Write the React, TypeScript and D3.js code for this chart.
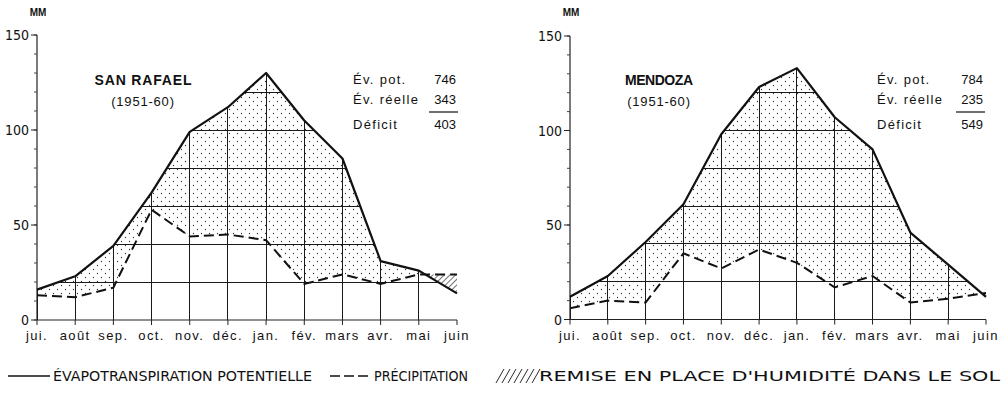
import React from "react";
import * as d3 from "d3";

const months = ["jui.", "août", "sep.", "oct.", "nov.", "déc.", "jan.", "fév.", "mars", "avr.", "mai", "juin"];
const yTicks = [0, 50, 100, 150];
const minorTicks = d3.range(0, 151, 10);
const gridLevels = [20, 40, 60, 80, 100, 120];

// values (mm)
const sanRafaelEtp = [16, 23, 39, 67, 99, 112, 130, 105, 85, 31, 26, 14];
const sanRafaelPrecip = [13, 12, 17, 58, 44, 45, 42, 19, 24, 19, 24, 24];
const mendozaEtp = [12, 23, 41, 61, 98, 123, 133, 107, 90, 46, 29, 12];
const mendozaPrecip = [6, 10, 9, 35, 27, 37, 30, 17, 23, 9, 11, 14];

const sanRafaelStats = [["Év. pot.", "746"], ["Év. réelle", "343"], ["Déficit", "403"]];
const mendozaStats = [["Év. pot.", "784"], ["Év. réelle", "235"], ["Déficit", "549"]];

const legendItems = [
  "ÉVAPOTRANSPIRATION POTENTIELLE",
  "PRÉCIPITATION",
  "REMISE EN PLACE D'HUMIDITÉ DANS LE SOL",
];

const FONT = "'Liberation Sans', Arial, sans-serif";
const COND = "'DejaVu Sans Condensed', 'Liberation Sans Narrow', 'Liberation Sans', sans-serif";

type ChartProps = {
  id: string;
  station: string;
  period: string;
  etp: number[];
  precip: number[];
  stats: string[][];
  xr: [number, number];
  yr: [number, number];
  titleX: number;
  statsX: number;
  statsR: number;
  titleLen: number;
};

function Chart(p: ChartProps) {
  const x = d3.scalePoint<string>().domain(months).range(p.xr);
  const y = d3.scaleLinear().domain([0, 150]).range(p.yr);
  const xi = (i: number) => x(months[i]) as number;

  const etpLine = d3.line<number>().x((_, i) => xi(i)).y(d => y(d))(p.etp) as string;
  const precipLine = d3.line<number>().x((_, i) => xi(i)).y(d => y(d))(p.precip) as string;
  const underEtp = d3.area<number>().x((_, i) => xi(i)).y0(y(0)).y1(d => y(d))(p.etp) as string;
  const aboveEtp = d3.area<number>().x((_, i) => xi(i)).y0(y(150)).y1(d => y(d))(p.etp) as string;
  const between = d3
    .area<number>()
    .x((_, i) => xi(i))
    .y0((_, i) => y(p.precip[i]))
    .y1(d => y(d))(p.etp) as string;

  const x0 = p.xr[0];
  const x1 = p.xr[1];

  return (
    <g>
      <defs>
        <clipPath id={`under-${p.id}`}>
          <path d={underEtp} />
        </clipPath>
        <clipPath id={`above-${p.id}`}>
          <path d={aboveEtp} />
        </clipPath>
      </defs>

      {/* deficit (dotted) */}
      <path d={between} fill="url(#dots)" clipPath={`url(#under-${p.id})`} />
      {/* recharge (hatched) */}
      <path d={between} fill="url(#hatch)" clipPath={`url(#above-${p.id})`} />

      {/* grid under ETP */}
      <g clipPath={`url(#under-${p.id})`} stroke="#1a1a1a" strokeWidth={1} shapeRendering="crispEdges">
        {gridLevels.map(v => (
          <line key={v} x1={x0} x2={x1} y1={y(v)} y2={y(v)} />
        ))}
        {months.map((m, i) => (
          <line key={m} x1={xi(i)} x2={xi(i)} y1={y(0)} y2={y(150)} />
        ))}
      </g>

      {/* x axis */}
      <line x1={x0} x2={x1} y1={y(0)} y2={y(0)} stroke="#222" strokeWidth={1.2} />
      {months.map((m, i) => (
        <g key={m}>
          <line x1={xi(i)} x2={xi(i)} y1={y(0)} y2={y(0) + 5} stroke="#222" />
          <text x={xi(i)} y={y(0) + 20} textAnchor="middle" fontSize={13} letterSpacing={1.4} fontFamily={FONT} fill="#111">
            {m}
          </text>
        </g>
      ))}

      {/* y axis */}
      <line x1={x0} x2={x0} y1={y(0)} y2={y(150)} stroke="#222" strokeWidth={1.2} />
      {minorTicks.map(v => (
        <line key={v} x1={x0 - 3} x2={x0} y1={y(v)} y2={y(v)} stroke="#444" />
      ))}
      {yTicks.map(v => (
        <g key={v}>
          <line x1={x0 - 6} x2={x0} y1={y(v)} y2={y(v)} stroke="#222" />
          <text x={x0 - 8} y={y(v) + 5} textAnchor="end" fontSize={14} fontFamily={COND} fill="#111">
            {v}
          </text>
        </g>
      ))}
      <text x={x0 + 1} y={16} textAnchor="middle" fontSize={10} fontWeight="bold" fontFamily={FONT} fill="#111">
        MM
      </text>

      {/* lines */}
      <path d={precipLine} fill="none" stroke="#111" strokeWidth={2} strokeDasharray="10 5" />
      <path d={etpLine} fill="none" stroke="#111" strokeWidth={2.2} strokeLinejoin="round" />

      {/* titles */}
      <text x={p.titleX} y={85} textAnchor="middle" fontSize={14} fontWeight="bold" fontFamily={FONT} fill="#111" textLength={p.titleLen} lengthAdjust="spacing">
        {p.station}
      </text>
      <text x={p.titleX} y={106} textAnchor="middle" fontSize={13} fontFamily={FONT} fill="#111" letterSpacing={0.8}>
        {p.period}
      </text>

      {p.stats.map((s, i) => {
        const by = [84, 104, 129][i];
        return (
          <g key={s[0]}>
            <text x={p.statsX} y={by} fontSize={13} fontFamily={FONT} fill="#111" letterSpacing={1.3}>
              {s[0]}
            </text>
            <text x={p.statsR} y={by} textAnchor="end" fontSize={13} fontFamily={FONT} fill="#111">
              {s[1]}
            </text>
          </g>
        );
      })}
      <line x1={p.statsR - 27} x2={p.statsR + 2} y1={112} y2={112} stroke="#111" strokeWidth={1.2} />
    </g>
  );
}

export default function App() {
  return (
    <svg width={1007} height={403} style={{ display: "block", position: "absolute", left: 0, top: 0, background: "#fff" }}>
      <defs>
        <pattern id="dots" patternUnits="userSpaceOnUse" width={8} height={8}>
          <circle cx={1.5} cy={1.5} r={0.65} fill="#333" />
          <circle cx={5.5} cy={5.5} r={0.65} fill="#333" />
        </pattern>
        <pattern id="hatch" patternUnits="userSpaceOnUse" width={4} height={4} patternTransform="rotate(45)">
          <line x1={0} y1={0} x2={0} y2={4} stroke="#111" strokeWidth={1.2} />
        </pattern>
      </defs>
      <rect width={1007} height={403} fill="#fff" />

      <Chart
        id="sr"
        station="SAN RAFAEL"
        period="(1951-60)"
        etp={sanRafaelEtp}
        precip={sanRafaelPrecip}
        stats={sanRafaelStats}
        xr={[37, 457]}
        yr={[320, 35]}
        titleX={143}
        statsX={353}
        statsR={456}
        titleLen={97}
      />
      <Chart
        id="me"
        station="MENDOZA"
        period="(1951-60)"
        etp={mendozaEtp}
        precip={mendozaPrecip}
        stats={mendozaStats}
        xr={[570, 986]}
        yr={[319.5, 36]}
        titleX={659}
        statsX={877}
        statsR={983}
        titleLen={68}
      />

      {/* legend */}
      <g fontFamily={COND} fontSize={14} fill="#111">
        <line x1={8} x2={50} y1={376} y2={376} stroke="#111" strokeWidth={1.5} />
        <text x={53} y={381} textLength={259} lengthAdjust="spacingAndGlyphs">{legendItems[0]}</text>
        <line x1={330} x2={369} y1={376} y2={376} stroke="#111" strokeWidth={1.5} strokeDasharray="10 4" />
        <text x={374} y={381} textLength={94} lengthAdjust="spacingAndGlyphs">{legendItems[1]}</text>
        <g stroke="#111" strokeWidth={0.9}>
          {d3.range(0, 7).map(k => (
            <line key={k} x1={496 + k * 6} x2={504 + k * 6} y1={383} y2={369} />
          ))}
        </g>
        <text x={539} y={381} textLength={461} lengthAdjust="spacingAndGlyphs">{legendItems[2]}</text>
      </g>
    </svg>
  );
}
